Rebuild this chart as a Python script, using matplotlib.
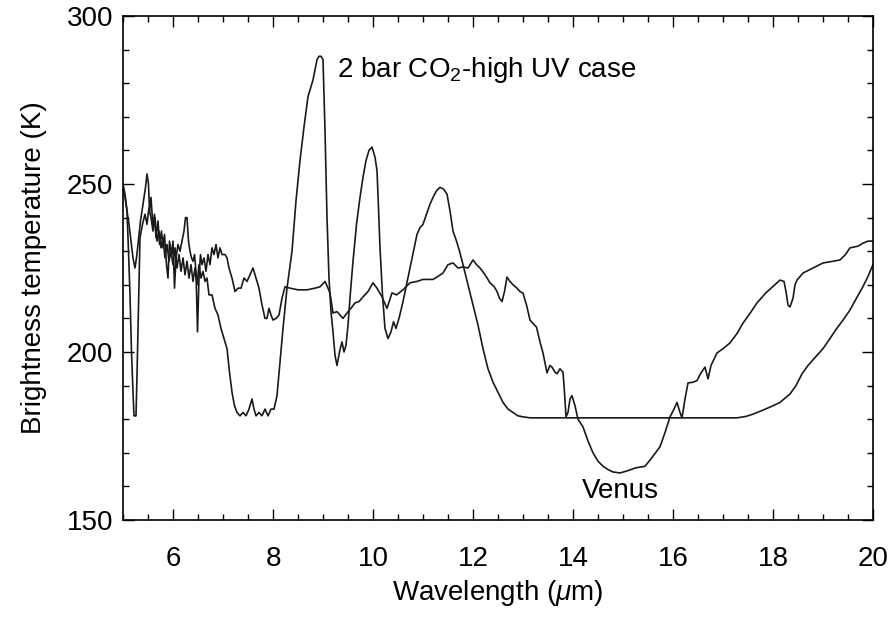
import numpy as np
import matplotlib
matplotlib.use("Agg")
import matplotlib.pyplot as plt
from matplotlib.ticker import MultipleLocator

plt.rcParams["font.family"] = ["Liberation Sans", "DejaVu Sans"]
plt.rcParams["mathtext.fontset"] = "custom"
plt.rcParams["mathtext.rm"] = "Liberation Sans"
plt.rcParams["mathtext.it"] = "Liberation Sans:italic"

# -------------------------------
# DATA
# -------------------------------
co2_wl = [5.00, 5.04, 5.08, 5.11, 5.14, 5.17, 5.20, 5.22, 5.26, 5.28, 5.30, 5.32, 5.34,
          5.39, 5.44, 5.48, 5.52, 5.56, 5.60, 5.64, 5.68, 5.72, 5.76, 5.80, 5.84, 5.88,
          5.92, 5.96, 6.00, 6.04, 6.08, 6.12, 6.16, 6.20, 6.24, 6.28, 6.32, 6.36, 6.40,
          6.44, 6.48, 6.52, 6.56, 6.60, 6.64, 6.68, 6.72, 6.78, 6.84, 6.90, 6.96, 7.02,
          7.08, 7.13, 7.18, 7.23, 7.28, 7.34, 7.40, 7.46, 7.52, 7.58, 7.62, 7.66, 7.72,
          7.78, 7.84, 7.90, 7.96, 8.02, 8.08, 8.14, 8.20, 8.28, 8.38, 8.46, 8.54, 8.62,
          8.70, 8.76, 8.80, 8.84, 8.88, 8.92, 8.96, 9.00, 9.04, 9.08, 9.12, 9.16, 9.20,
          9.24, 9.28, 9.33, 9.38, 9.42, 9.46, 9.50, 9.55, 9.60, 9.67, 9.74, 9.80, 9.86,
          9.92, 9.98, 10.04, 10.08, 10.11, 10.14, 10.19, 10.24, 10.30, 10.36, 10.41,
          10.46, 10.52, 10.60, 10.67, 10.74, 10.81, 10.88, 10.94, 11.00, 11.07, 11.14,
          11.20, 11.27, 11.34, 11.41, 11.48, 11.54, 11.60, 11.67, 11.73, 11.80, 11.90,
          12.00, 12.10, 12.20, 12.30, 12.40, 12.50, 12.60, 12.70, 12.80, 12.90, 13.00,
          13.14, 14.00, 15.00, 16.00, 17.00, 17.28, 17.45, 17.60, 17.80, 18.00, 18.14,
          18.34, 18.46, 18.58, 18.70, 18.85, 19.00, 19.14, 19.25, 19.40, 19.54, 19.65,
          19.80, 19.90, 20.00]
co2_tb = [249, 246, 242, 230, 217, 200, 188, 181, 181, 193, 207, 222, 234,
          238, 241, 238, 243, 240, 236, 240, 233, 236, 231, 234, 228, 232,
          227, 230, 226, 231, 225, 229, 224, 228, 223, 227, 222, 226, 221,
          225, 220, 226, 222, 224, 221, 222, 217, 217, 213, 211, 207, 204,
          201, 194, 188, 184, 182, 181, 182, 181, 183, 186, 183, 181, 182,
          181, 183, 181, 183, 183, 187, 197, 207, 219, 230, 245, 257, 267,
          276, 279, 281, 284, 287, 288, 288, 287, 266, 240, 222, 212, 206,
          199, 196, 200, 203, 200, 202, 208, 218, 227, 238, 246, 252, 257,
          260, 261, 258, 254, 243, 231, 217, 207, 204, 206, 209,
          207, 210, 215, 220, 225, 230, 235, 237, 238, 241, 244,
          246, 248, 249, 248.5, 247, 242, 236, 233, 230, 226, 220,
          214, 208, 201, 195, 191, 188, 185, 183, 182, 181, 180.7,
          180.4, 180.4, 180.4, 180.4, 180.4, 180.4, 180.8, 181.5, 182.7, 184, 185,
          187.5, 190, 193.5, 196, 198.5, 201, 204, 206.5, 209.5, 212.5, 215.5,
          219.5, 222.5, 226]

venus_wl = [5.00, 5.04, 5.08, 5.12, 5.16, 5.20, 5.24, 5.27, 5.30, 5.35, 5.40, 5.45, 5.48,
            5.51, 5.53, 5.56, 5.60, 5.63, 5.66, 5.70, 5.73, 5.77, 5.80, 5.83, 5.87, 5.90,
            5.93, 5.97, 6.00, 6.03, 6.06, 6.10, 6.14, 6.18, 6.22, 6.25, 6.28, 6.31, 6.34,
            6.37, 6.40, 6.43, 6.46, 6.49, 6.52, 6.55, 6.58, 6.62, 6.66, 6.70, 6.74, 6.78,
            6.82, 6.86, 6.90, 6.94, 6.98, 7.04, 7.08, 7.12, 7.18, 7.24, 7.30, 7.36, 7.42,
            7.48, 7.54, 7.60, 7.66, 7.72, 7.78, 7.84, 7.88, 7.92, 7.96, 8.00, 8.06, 8.12,
            8.18, 8.24, 8.34, 8.50, 8.68, 8.84, 8.94, 9.04, 9.10, 9.14, 9.20, 9.28, 9.34,
            9.40, 9.48, 9.58, 9.64, 9.72, 9.80, 9.90, 10.00, 10.08, 10.18, 10.28, 10.38,
            10.47, 10.60, 10.74, 10.88, 11.00, 11.20, 11.30, 11.40, 11.50, 11.60, 11.70,
            11.80, 11.90, 12.00, 12.07, 12.14, 12.24, 12.34, 12.42, 12.48, 12.53, 12.58,
            12.63, 12.68, 12.74, 12.80, 12.88, 12.94, 13.00, 13.07, 13.14, 13.20, 13.27,
            13.34, 13.40, 13.48, 13.54, 13.58, 13.64, 13.68, 13.74, 13.80, 13.83, 13.86,
            13.90, 13.94, 13.98, 14.04, 14.10, 14.20, 14.30, 14.40, 14.50, 14.60, 14.70,
            14.80, 14.94, 15.10, 15.25, 15.44, 15.55, 15.65, 15.74, 15.84, 15.94, 16.02,
            16.08, 16.14, 16.18, 16.24, 16.30, 16.40, 16.48, 16.56, 16.64, 16.70, 16.76,
            16.88, 17.00, 17.14, 17.28, 17.40, 17.54, 17.68, 17.85, 18.00, 18.14, 18.22,
            18.26, 18.30, 18.34, 18.40, 18.44, 18.48, 18.60, 18.80, 19.00, 19.20, 19.34,
            19.45, 19.54, 19.70, 19.80, 19.90, 20.00]
venus_tb = [250, 247, 242, 238, 233, 228, 225, 228, 232, 239, 244, 249, 253,
            250, 242, 246, 237, 241, 234, 239, 232, 236, 231, 235, 226, 222,
            233, 229, 233, 219, 228, 232, 230, 233, 236, 240, 240, 233, 230,
            228, 227, 229, 224, 206, 222, 229, 226, 228, 224, 229, 226, 231,
            229, 232, 228, 231, 229, 229, 228, 225, 222, 218, 219, 219, 222,
            221, 223, 225, 222, 219, 214, 210, 210, 213, 211, 209.5, 210, 211,
            216, 219.4, 219, 218.5, 218.5, 219, 219.4, 221, 219, 217.5, 211.6, 212, 211,
            210, 211.6, 213.4, 214.6, 215, 216.4, 218, 220.6, 219, 216.4, 213, 217.6,
            217, 218.5, 220.6, 221, 221.6, 221.6, 222.5, 223.5, 226, 226.5, 225,
            225.3, 225, 227.4, 226, 225, 223, 220.6, 219.5, 218, 216, 215,
            218, 222.3, 221, 220, 219, 218, 217.5, 214, 209.5, 208.5, 207.4,
            203, 199.7, 193.8, 196, 195.5, 194, 193.5, 195, 194, 188, 180.7,
            182, 186, 187, 184, 180, 177.7, 173.5, 170, 167.5, 166, 165,
            164.3, 164, 164.7, 165.5, 166, 168, 170, 171.8, 176, 180.7, 183,
            185, 182, 180.4, 186, 190.8, 191, 191.5, 193.8, 195.5, 192, 196,
            199.7, 201, 202.7, 205.5, 208.6, 211.5, 214.6, 217.5, 219.5, 221.4, 221,
            218, 214, 213.4, 216, 220, 221.4, 223.5, 225, 226.5, 227, 227.4,
            229, 231, 231.5, 232.4, 233, 233]

# -------------------------------
# PLOT
# -------------------------------
fig = plt.figure(figsize=(8.91, 6.22), dpi=100)
ax = fig.add_axes([123 / 891, 102 / 622, 750 / 891, 504 / 622])

ax.plot(co2_wl, co2_tb, color="#1a1a1a", lw=1.2)
ax.plot(venus_wl, venus_tb, color="#1a1a1a", lw=1.2)

ax.set_xlim(5, 20)
ax.set_ylim(150, 300)
ax.xaxis.set_major_locator(MultipleLocator(2))
ax.xaxis.set_minor_locator(MultipleLocator(0.5))
ax.yaxis.set_major_locator(MultipleLocator(50))
ax.yaxis.set_minor_locator(MultipleLocator(10))
ax.tick_params(which="both", direction="in", top=True, right=True,
               labelsize=20, width=1.0)
ax.tick_params(which="major", length=8)
ax.tick_params(which="minor", length=4)
ax.tick_params(axis="x", which="major", pad=19)
ax.tick_params(axis="y", which="major", pad=7)
for s in ax.spines.values():
    s.set_linewidth(1.2)

ax.set_xlabel(r"Wavelength ($\mu$m)", fontsize=20, labelpad=4)
ax.set_ylabel("Brightness temperature (K)", fontsize=20, labelpad=14)

ax.text(9.28, 281.8, r"2 bar CO$_\mathrm{2}$-high UV case", fontsize=20,
        ha="left", va="baseline")
ax.text(14.94, 156.5, "Venus", fontsize=20, ha="center", va="baseline")

fig.savefig("out.png", dpi=100)
